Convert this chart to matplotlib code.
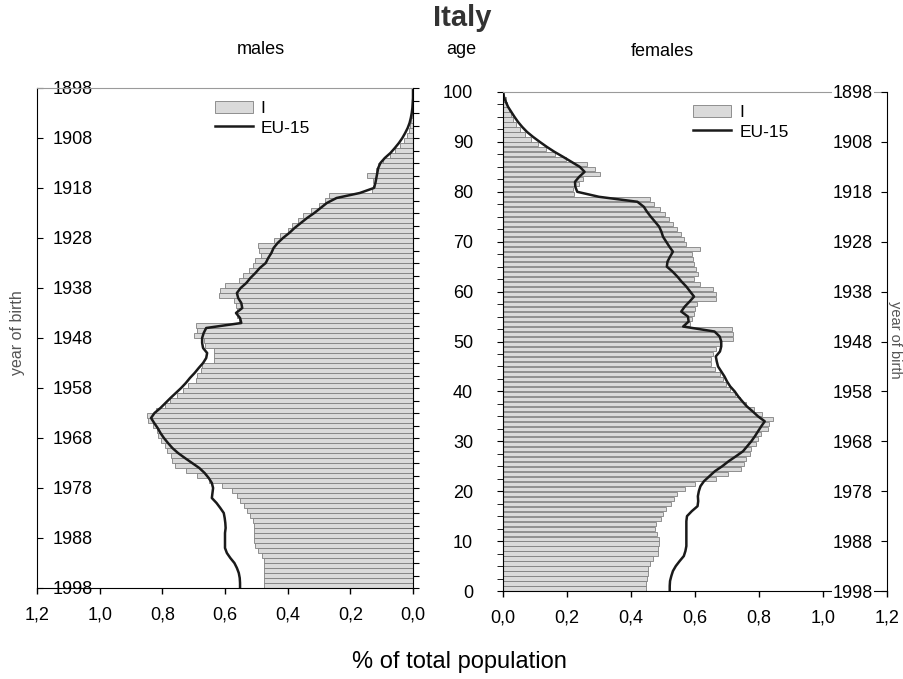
import numpy as np
import matplotlib.pyplot as plt

# share of total population (%) by single year of age, Italy 1998 vs EU-15
ages = np.arange(0, 100)
ages_line = np.arange(0, 101)

males_it = [0.475, 0.475, 0.475, 0.475, 0.476, 0.477, 0.482, 0.495, 0.504, 0.507,
            0.508, 0.508, 0.506, 0.511, 0.519, 0.530, 0.540, 0.551, 0.561, 0.577,
            0.610, 0.650, 0.689, 0.726, 0.760, 0.768, 0.771, 0.784, 0.790, 0.804,
            0.813, 0.818, 0.830, 0.845, 0.850, 0.820, 0.792, 0.774, 0.752, 0.734,
            0.717, 0.694, 0.689, 0.678, 0.673, 0.636, 0.636, 0.636, 0.665, 0.668,
            0.700, 0.690, 0.692, 0.556, 0.562, 0.562, 0.565, 0.572, 0.620, 0.617,
            0.600, 0.556, 0.542, 0.522, 0.510, 0.505, 0.485, 0.490, 0.495, 0.445,
            0.424, 0.400, 0.386, 0.366, 0.350, 0.325, 0.300, 0.280, 0.268, 0.130,
            0.122, 0.127, 0.148, 0.118, 0.111, 0.097, 0.072, 0.056, 0.041, 0.030,
            0.020, 0.013, 0.009, 0.006, 0.004, 0.003, 0.002, 0.001, 0.001, 0.000]

females_it = [0.448, 0.448, 0.450, 0.452, 0.452, 0.458, 0.470, 0.484, 0.484, 0.486,
              0.488, 0.482, 0.476, 0.478, 0.495, 0.500, 0.510, 0.526, 0.534, 0.545,
              0.570, 0.600, 0.665, 0.703, 0.745, 0.752, 0.758, 0.771, 0.774, 0.792,
              0.797, 0.807, 0.828, 0.830, 0.844, 0.810, 0.784, 0.760, 0.742, 0.725,
              0.710, 0.698, 0.686, 0.677, 0.664, 0.650, 0.650, 0.656, 0.667, 0.677,
              0.719, 0.719, 0.716, 0.585, 0.590, 0.597, 0.600, 0.605, 0.667, 0.667,
              0.656, 0.615, 0.598, 0.609, 0.604, 0.597, 0.594, 0.592, 0.615, 0.571,
              0.565, 0.555, 0.545, 0.531, 0.518, 0.507, 0.490, 0.472, 0.458, 0.222,
              0.219, 0.237, 0.250, 0.302, 0.286, 0.263, 0.198, 0.164, 0.135, 0.110,
              0.088, 0.068, 0.052, 0.040, 0.031, 0.024, 0.018, 0.013, 0.008, 0.004]

males_eu = [0.552, 0.552, 0.553, 0.556, 0.562, 0.570, 0.583, 0.594, 0.600, 0.600,
            0.600, 0.600, 0.598, 0.599, 0.601, 0.604, 0.615, 0.627, 0.642, 0.640,
            0.638, 0.642, 0.652, 0.665, 0.682, 0.705, 0.728, 0.750, 0.768, 0.782,
            0.795, 0.806, 0.815, 0.826, 0.836, 0.825, 0.806, 0.790, 0.774, 0.757,
            0.740, 0.725, 0.712, 0.697, 0.684, 0.670, 0.660, 0.657, 0.670, 0.673,
            0.673, 0.668, 0.660, 0.548, 0.552, 0.565, 0.545, 0.548, 0.558, 0.562,
            0.550, 0.532, 0.519, 0.503, 0.489, 0.470, 0.462, 0.452, 0.445, 0.432,
            0.415, 0.395, 0.378, 0.358, 0.338, 0.315, 0.295, 0.275, 0.244, 0.170,
            0.125, 0.120, 0.117, 0.114, 0.111, 0.104, 0.090, 0.072, 0.058, 0.045,
            0.034, 0.025, 0.017, 0.011, 0.007, 0.004, 0.002, 0.001, 0.000, 0.000,
            0.000]

females_eu = [0.521, 0.521, 0.522, 0.526, 0.531, 0.540, 0.552, 0.565, 0.570, 0.573,
              0.573, 0.573, 0.573, 0.573, 0.573, 0.575, 0.590, 0.608, 0.610, 0.609,
              0.612, 0.617, 0.628, 0.645, 0.662, 0.685, 0.705, 0.728, 0.750, 0.763,
              0.776, 0.787, 0.797, 0.807, 0.818, 0.797, 0.780, 0.762, 0.748, 0.735,
              0.724, 0.710, 0.700, 0.692, 0.682, 0.672, 0.668, 0.665, 0.678, 0.682,
              0.682, 0.677, 0.661, 0.563, 0.580, 0.578, 0.557, 0.568, 0.583, 0.597,
              0.585, 0.573, 0.558, 0.545, 0.530, 0.512, 0.514, 0.522, 0.531, 0.520,
              0.510, 0.500, 0.495, 0.488, 0.475, 0.462, 0.450, 0.440, 0.420, 0.300,
              0.232, 0.226, 0.225, 0.238, 0.255, 0.240, 0.214, 0.188, 0.161, 0.137,
              0.115, 0.094, 0.075, 0.060, 0.047, 0.036, 0.026, 0.016, 0.009, 0.003,
              0.000]

pct_ticks = [0.0, 0.2, 0.4, 0.6, 0.8, 1.0, 1.2]
pct_labels = ["0,0", "0,2", "0,4", "0,6", "0,8", "1,0", "1,2"]
age_ticks = list(range(0, 101, 10))
year_labels = [str(1998 - a) for a in age_ticks]

plt.rcParams['font.family'] = ['Liberation Sans', 'DejaVu Sans']

bar_face = '#dadada'
bar_edge = '#808080'

fig = plt.figure(figsize=(9.04, 6.79), dpi=100)
ax_l = fig.add_axes([37 / 904, 1 - 588 / 679, 376 / 904, 500 / 679])
ax_r = fig.add_axes([503 / 904, 1 - 591 / 679, 384 / 904, 499 / 679])

for ax, it, eu, lx in [(ax_l, males_it, males_eu, 0.445),
                       (ax_r, females_it, females_eu, 0.468)]:
    ax.barh(ages + 0.5, it, height=0.84, color=bar_face, edgecolor=bar_edge,
            linewidth=0.6, label="I")
    ax.plot(eu, ages_line, color='#1a1a1a', lw=1.8, label="EU-15")
    ax.set_ylim(0, 100)
    ax.set_xticks(pct_ticks)
    ax.set_xticklabels(pct_labels, fontsize=13)
    ax.tick_params(axis='x', direction='out', length=4.5, width=1, pad=9)
    ax.spines['top'].set_color('#9a9a9a')
    ax.spines['top'].set_linewidth(0.8)
    handles, labels = ax.get_legend_handles_labels()
    ax.legend(handles[::-1], labels[::-1], loc='upper left', frameon=False,
              fontsize=12.5, handlelength=2.2, handletextpad=0.45,
              labelspacing=0.25, borderaxespad=0.2, bbox_to_anchor=(lx, 0.995))

ax_l.set_xlim(1.2, 0)
ax_r.set_xlim(0, 1.2)

# left panel: year of birth inside on the left spine
ax_l.set_yticks(age_ticks)
ax_l.set_yticklabels(year_labels, fontsize=13)
ax_l.tick_params(axis='y', direction='in', length=4.5, pad=-11.5)
plt.setp(ax_l.get_yticklabels(), ha='left',
         bbox=dict(facecolor='white', edgecolor='none', pad=0.5))
ax_l.spines['right'].set_visible(False)

ax_l2 = ax_l.twinx()
ax_l2.set_ylim(0, 100)
ax_l2.set_yticks(np.arange(0, 100.1, 2.5))
ax_l2.tick_params(axis='y', direction='out', length=4.5, labelright=False)
for s in ['top', 'bottom', 'left']:
    ax_l2.spines[s].set_visible(False)

# right panel: age on the left spine, year of birth inside on the right spine
ax_r.set_yticks(age_ticks)
ax_r.set_yticklabels([str(a) for a in age_ticks], fontsize=13)
ax_r.set_yticks(np.arange(0, 100.1, 2.5), minor=True)
ax_r.tick_params(axis='y', which='both', direction='out', length=4.5, pad=17)
ax_r.spines['right'].set_visible(False)

ax_r2 = ax_r.twinx()
ax_r2.set_ylim(0, 100)
ax_r2.set_yticks(age_ticks)
ax_r2.set_yticklabels(year_labels, fontsize=13)
ax_r2.tick_params(axis='y', direction='in', length=4.5, pad=-10)
plt.setp(ax_r2.get_yticklabels(), ha='right',
         bbox=dict(facecolor='white', edgecolor='none', pad=0.5))
ax_r2.spines['top'].set_visible(False)
ax_r2.spines['bottom'].set_visible(False)
ax_r2.spines['left'].set_visible(False)

fig.text(462 / 904, 1 - 18 / 679, "Italy", ha='center', va='center',
         fontsize=21, fontweight='bold', color='#333333')
fig.text(261 / 904, 1 - 50 / 679, "males", ha='center', va='center', fontsize=13)
fig.text(461 / 904, 1 - 50 / 679, "age", ha='center', va='center', fontsize=13)
fig.text(662 / 904, 1 - 52 / 679, "females", ha='center', va='center', fontsize=13)
fig.text(459 / 904, 1 - 662 / 679, "% of total population", ha='center', va='center',
         fontsize=17)
fig.text(18 / 904, 1 - 333 / 679, "year of birth", ha='center', va='center',
         rotation=90, fontsize=11.5, color='#555555')
fig.text(895 / 904, 1 - 340 / 679, "year of birth", ha='center', va='center',
         rotation=-90, fontsize=10.5, color='#555555')

fig.savefig("out.png", dpi=100)
